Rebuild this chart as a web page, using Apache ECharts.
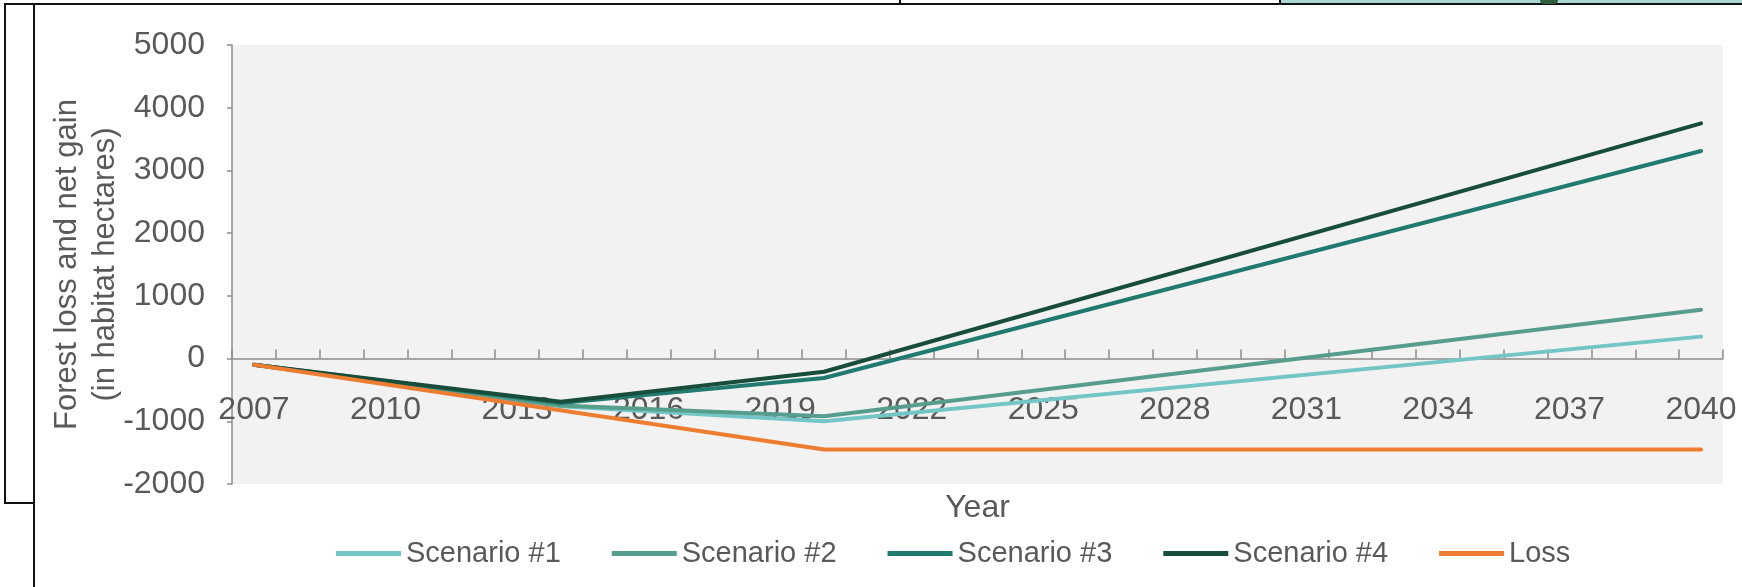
<!DOCTYPE html>
<html>
<head>
<meta charset="utf-8">
<script src="https://cdn.jsdelivr.net/npm/echarts@6/dist/echarts.min.js"></script>
<style>
  html, body { margin: 0; padding: 0; background: #ffffff; }
  #wrap { position: relative; width: 1742px; height: 587px; overflow: hidden; background: #fff; }
  #chart { position: absolute; left: 0; top: 0; width: 1742px; height: 587px; }
  .ln { position: absolute; background: #111; }
</style>
</head>
<body>
<div id="wrap">
  <div id="chart"></div>
  <!-- page-frame fragments visible around the cropped figure -->
  <div class="ln" style="left:4px; top:3px; width:1276px; height:2px;"></div>
  <div class="ln" style="left:4px; top:3px; width:2px; height:501px;"></div>
  <div class="ln" style="left:4px; top:502px; width:31px; height:2px;"></div>
  <div class="ln" style="left:33px; top:3px; width:2px; height:584px;"></div>
  <div class="ln" style="left:899px; top:0px; width:2px; height:4px;"></div>
  <div class="ln" style="left:1279px; top:0px; width:2px; height:5px;"></div>
  <div style="position:absolute; left:1281px; top:0px; width:461px; height:3px; background:#a9d8d2;"></div>
  <div class="ln" style="left:1281px; top:3px; width:461px; height:2px;"></div>
  <div style="position:absolute; left:1540px; top:0px; width:18px; height:4px; background:#2e5e3a; border-radius:0 0 8px 8px;"></div>
</div>
<script>
// Categories (years) on the x axis
const years = ['2007','2008','2009','2010','2011','2012','2013','2014','2015','2016','2017','2018','2019','2020',
               '2021','2022','2023','2024','2025','2026','2027','2028','2029','2030','2031','2032','2033','2034',
               '2035','2036','2037','2038','2039','2040'];

const scenarioYears = ['2007', '2014', '2020', '2040'];
const scenario1 = [-100, -760, -1000, 350];
const scenario2 = [-100, -750, -920, 780];
const scenario3 = [-100, -710, -310, 3310];
const scenario4 = [-100, -690, -210, 3750];

const lossYears = ['2007', '2020', '2040'];
const loss = [-100, -1450, -1450];

// Y axis ticks
const yMin = -2000, yMax = 5000, yStep = 1000;

const seriesNames = ['Scenario #1', 'Scenario #2', 'Scenario #3', 'Scenario #4', 'Loss'];
const seriesColors = ['#74c5c6', '#579d8b', '#207a6f', '#184d3b', '#ed7d31'];

function pairs(xs, ys) { return xs.map((x, i) => [x, ys[i]]); }

const seriesData = [
  pairs(scenarioYears, scenario1),
  pairs(scenarioYears, scenario2),
  pairs(scenarioYears, scenario3),
  pairs(scenarioYears, scenario4),
  pairs(lossYears, loss)
];

const FONT = '"Liberation Sans", Arial, sans-serif';
const TXT = '#595959';
const AX = '#8c8c8c';

const chart = echarts.init(document.getElementById('chart'), null, { renderer: 'canvas' });
chart.setOption({
  animation: false,
  backgroundColor: '#ffffff',
  textStyle: { fontFamily: FONT, color: TXT },
  grid: {
    show: true, backgroundColor: '#f2f2f2', borderWidth: 0,
    left: 232, right: 19, top: 45, bottom: 103,
    containLabel: false, outerBoundsMode: 'none'
  },
  legend: {
    data: seriesNames,
    left: 331, top: 534,
    icon: 'rect', itemWidth: 65, itemHeight: 5, itemGap: 51,
    textStyle: { fontFamily: FONT, fontSize: 29, color: TXT }
  },
  xAxis: [
    {
      // labels + name, anchored at the bottom of the plot area
      type: 'category',
      data: years,
      boundaryGap: true,
      position: 'bottom',
      name: 'Year',
      nameLocation: 'middle',
      nameGap: 8,
      nameMoveOverlap: false,
      nameTextStyle: { fontFamily: FONT, fontSize: 32, color: TXT },
      axisLine: { show: false, onZero: false },
      axisTick: { show: false },
      axisLabel: { interval: 2, margin: -90, fontFamily: FONT, fontSize: 32, color: TXT },
      splitLine: { show: false }
    },
    {
      // the horizontal axis line at zero with its inner ticks
      type: 'category',
      data: years,
      boundaryGap: true,
      position: 'bottom',
      axisLine: { show: true, onZero: true, onZeroAxisIndex: 0, lineStyle: { color: AX, width: 1.5 } },
      axisTick: { show: true, inside: true, length: 9, interval: 0, lineStyle: { color: AX, width: 1.5 } },
      axisLabel: { show: false },
      splitLine: { show: false }
    }
  ],
  yAxis: {
    type: 'value',
    min: yMin, max: yMax, interval: yStep,
    name: 'Forest loss and net gain\n(in habitat hectares)',
    nameLocation: 'middle',
    nameGap: 108,
    nameMoveOverlap: false,
    nameRotate: 90,
    nameTextStyle: { fontFamily: FONT, fontSize: 31, color: TXT, lineHeight: 38, align: 'center' },
    axisLine: { show: true, lineStyle: { color: AX, width: 1.5 } },
    axisTick: { show: true, inside: false, length: 5, lineStyle: { color: AX, width: 1.5 } },
    axisLabel: { margin: 27, fontFamily: FONT, fontSize: 32, color: TXT, formatter: v => String(v) },
    splitLine: { show: false }
  },
  series: seriesNames.map((name, i) => ({
    name: name,
    type: 'line',
    xAxisIndex: 0,
    data: seriesData[i],
    symbol: 'none',
    showSymbol: false,
    color: seriesColors[i],
    lineStyle: { width: 4, color: seriesColors[i], cap: 'round', join: 'round' },
    z: 2 + i
  }))
});
</script>
</body>
</html>
